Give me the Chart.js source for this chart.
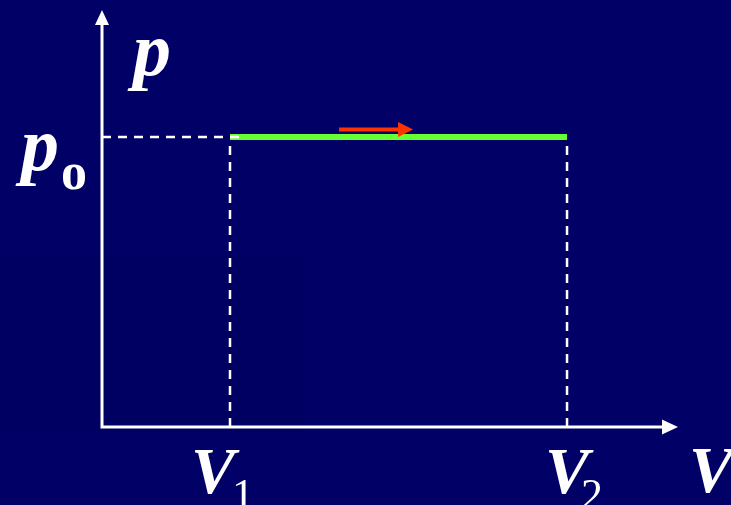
<!DOCTYPE html>
<html>
<head>
<meta charset="utf-8">
<script src="https://cdn.jsdelivr.net/npm/chart.js@4.4.1/dist/chart.umd.min.js"></script>
<style>
  html, body { margin: 0; padding: 0; background: #000066; overflow: hidden; }
  #wrap { width: 731px; height: 505px; position: relative; }
</style>
</head>
<body>
<div id="wrap"><canvas id="c" width="731" height="505"></canvas></div>
<script>
// ---- data (schematic p–V diagram, isobaric process) ----
const volumeTicks = [1, 3.633];          // V1, V2
const volumeLabels = ['V', 'V'];
const volumeSubs = ['1', '2'];
const pressure0 = 1.0;                   // p0
const processVolumes = [1, 3.633];       // green isobar from V1 to V2
const processPressures = [1.0, 1.0];
const directionVolumes = [1.852, 2.43];  // red direction arrow
const directionPressures = [1.026, 1.026];
const axisMax = { V: 4.5, p: 1.438 };

const toPts = (xs, ys) => xs.map((x, i) => ({ x, y: ys[i] }));

const bgPlugin = {
  id: 'bg',
  beforeDraw(chart) {
    const ctx = chart.ctx;
    ctx.save();
    ctx.fillStyle = '#000066';
    ctx.fillRect(0, 0, chart.width, chart.height);
    ctx.fillStyle = '#000063';
    ctx.fillRect(0, 256, 305, 178);
    ctx.restore();
  }
};

// label placement (pixel offsets relative to tick position)
const labelOffsets = [{ v: -39, s: 2 }, { v: -22, s: 14 }];

const decorPlugin = {
  id: 'decor',
  afterDatasetsDraw(chart) {
    const ctx = chart.ctx;
    const xs = chart.scales.x, ys = chart.scales.y;
    const x0 = xs.getPixelForValue(0), y0 = ys.getPixelForValue(0);
    const xEnd = xs.getPixelForValue(axisMax.V), yEnd = ys.getPixelForValue(axisMax.p);
    ctx.save();
    // axes
    ctx.strokeStyle = '#ffffff';
    ctx.fillStyle = '#ffffff';
    ctx.lineWidth = 3;
    ctx.beginPath();
    ctx.moveTo(x0, y0 + 1.5);
    ctx.lineTo(x0, yEnd + 12);
    ctx.moveTo(x0 - 1.5, y0);
    ctx.lineTo(xEnd - 12, y0);
    ctx.stroke();
    // axis arrowheads
    ctx.beginPath();
    ctx.moveTo(x0, yEnd);
    ctx.lineTo(x0 - 7, yEnd + 15);
    ctx.lineTo(x0 + 7, yEnd + 15);
    ctx.closePath();
    ctx.fill();
    ctx.beginPath();
    ctx.moveTo(xEnd, y0);
    ctx.lineTo(xEnd - 16, y0 - 7.5);
    ctx.lineTo(xEnd - 16, y0 + 7.5);
    ctx.closePath();
    ctx.fill();
    // red direction arrowhead
    const n = directionVolumes.length - 1;
    const ax = xs.getPixelForValue(directionVolumes[n]);
    const ay = ys.getPixelForValue(directionPressures[n]);
    ctx.fillStyle = '#ff3300';
    ctx.beginPath();
    ctx.moveTo(ax, ay);
    ctx.lineTo(ax - 15, ay - 7.5);
    ctx.lineTo(ax - 15, ay + 7.5);
    ctx.closePath();
    ctx.fill();
    // labels
    ctx.fillStyle = '#ffffff';
    ctx.textBaseline = 'alphabetic';
    ctx.font = 'italic bold 76px "Liberation Serif", "DejaVu Serif", serif';
    ctx.fillText('p', 133, 75);
    ctx.fillText('p', 21, 170);
    ctx.font = 'bold 52px "Liberation Serif", serif';
    ctx.fillText('o', 61, 189);
    volumeTicks.forEach((v, i) => {
      const px = xs.getPixelForValue(v);
      ctx.font = 'italic bold 66px "Liberation Serif", serif';
      ctx.fillText(volumeLabels[i], px + labelOffsets[i].v, 493);
      ctx.font = '44px "Liberation Serif", serif';
      ctx.fillText(volumeSubs[i], px + labelOffsets[i].s, 509);
    });
    ctx.font = 'italic bold 66px "Liberation Serif", serif';
    ctx.fillText('V', xEnd + 11, 492);
    ctx.restore();
  }
};

new Chart(document.getElementById('c'), {
  type: 'scatter',
  data: {
    datasets: [
      { // horizontal dashed p0 guide
        data: toPts([0, volumeTicks[0] + 0.1], [pressure0, pressure0]),
        showLine: true, borderColor: '#ffffff', borderWidth: 2.5,
        borderDash: [9, 7], pointRadius: 0, order: 1
      },
      { // vertical dashed V1
        data: toPts([volumeTicks[0], volumeTicks[0]], [0, pressure0 - 0.01]),
        showLine: true, borderColor: '#ffffff', borderWidth: 2.5,
        borderDash: [9, 7], pointRadius: 0, order: 1
      },
      { // vertical dashed V2
        data: toPts([volumeTicks[1], volumeTicks[1]], [0, pressure0 - 0.01]),
        showLine: true, borderColor: '#ffffff', borderWidth: 2.5,
        borderDash: [9, 7], pointRadius: 0, order: 1
      },
      { // isobaric process line
        data: toPts(processVolumes, processPressures),
        showLine: true, borderColor: '#66ff33', borderWidth: 6,
        borderCapStyle: 'butt', pointRadius: 0, order: 2
      },
      { // direction arrow shaft
        data: toPts([directionVolumes[0], directionVolumes[1] - 0.1], directionPressures),
        showLine: true, borderColor: '#ff3300', borderWidth: 4,
        borderCapStyle: 'butt', pointRadius: 0, order: 0
      }
    ]
  },
  options: {
    responsive: false,
    animation: false,
    events: [],
    layout: { padding: { left: 102, right: 53, top: 10, bottom: 78 } },
    plugins: { legend: { display: false }, tooltip: { enabled: false } },
    scales: {
      x: { type: 'linear', min: 0, max: axisMax.V, display: false },
      y: { type: 'linear', min: 0, max: axisMax.p, display: false }
    }
  },
  plugins: [bgPlugin, decorPlugin]
});
</script>
</body>
</html>
